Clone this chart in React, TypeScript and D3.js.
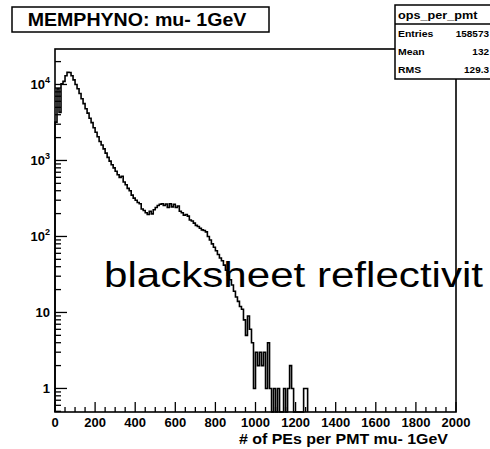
import React from "react";
import * as d3 from "d3";

// ---- data ----
const titleText = "MEMPHYNO: mu- 1GeV";
const xAxisTitle = "# of PEs per PMT mu- 1GeV";
const overlayText = "blacksheet reflectivit";
const statsName = "ops_per_pmt";
const statsLabels = ["Entries", "Mean", "RMS"];
const statsValues = ["158573", "132", "129.3"];

const xDomain = [0, 2000];
const yDomain = [0.49, 29300];
const binStart = 0;
const binWidth = 10;
// counts per 10-PE bin, starting at 0 PE
const counts = [
  3200, 8800, 4300, 10200, 11000, 13000, 14500, 14400, 13000, 11500,
  10000, 8800, 7600, 6500, 5600, 4800, 4200, 3600, 3150, 2700,
  2350, 2050, 1780, 1600, 1420, 1250, 1100, 980, 880, 800,
  720, 650, 600, 620, 520, 480, 430, 400, 350, 320,
  300, 280, 270, 230, 220, 205, 195, 215, 198, 225,
  240, 255, 265, 270, 255, 268, 240, 270, 245, 265,
  240, 252, 215, 205, 190, 195, 185, 165, 160, 150,
  140, 135, 128, 122, 120, 115, 100, 90, 80, 72,
  65, 58, 52, 48, 42, 36, 31, 27, 23, 19,
  16, 14, 12, 11, 8, 5, 9, 6, 4, 1,
  3, 2, 3, 2, 3, 1, 4, 1, 0, 1,
  0, 1, 0, 0, 1, 0, 1, 2, 1, 0,
  0, 0, 0, 0, 1, 1,
];
const xMajorTicks = [0, 200, 400, 600, 800, 1000, 1200, 1400, 1600, 1800, 2000];
const xMinorStep = 50;
const yMajorTicks = [1, 10, 100, 1000, 10000];
const yMajorBase = ["1", "10", "10", "10", "10"];
const yMajorExp = ["", "", "2", "3", "4"];

// ---- layout ----
const W = 490;
const H = 449;
const frame = { left: 55, top: 49, right: 456, bottom: 412 };

function T(props: any) {
  const { x, y, size, sx = 1, anchor = "start", weight = "bold", family = "'Liberation Sans', Arial, sans-serif", children } = props;
  return (
    <text
      transform={`translate(${x},${y}) scale(${sx},1)`}
      fontSize={size}
      fontFamily={family}
      fontWeight={weight}
      textAnchor={anchor}
      fill="#000"
    >
      {children}
    </text>
  );
}

export default function App() {
  const x = d3.scaleLinear().domain(xDomain).range([frame.left, frame.right]);
  const y = d3.scaleLog().domain(yDomain).range([frame.bottom, frame.top]).clamp(true);

  const pts: [number, number][] = [];
  pts.push([x(binStart), frame.bottom]);
  counts.forEach((c, i) => {
    const lo = binStart + i * binWidth;
    pts.push([x(lo), c > 0 ? y(c) : frame.bottom]);
  });
  const last = counts[counts.length - 1];
  const endX = x(binStart + counts.length * binWidth);
  pts.push([endX, last > 0 ? y(last) : frame.bottom]);
  pts.push([endX, frame.bottom]);
  const line = d3.line<[number, number]>().x((d) => d[0]).y((d) => d[1]).curve(d3.curveStepAfter);
  const histPath = line(pts) || "";

  const xMinor = d3.range(xDomain[0], xDomain[1] + 1, xMinorStep).filter((v) => !xMajorTicks.includes(v));

  const yMinor: number[] = [];
  for (let e = -1; e <= 4; e++) {
    for (let k = 2; k <= 9; k++) {
      const v = k * Math.pow(10, e);
      if (v >= yDomain[0] && v <= yDomain[1]) yMinor.push(v);
    }
  }

  return (
    <svg width={W} height={H} style={{ position: "absolute", left: 0, top: 0, background: "#fff" }}>
      <rect x={0} y={0} width={W} height={H} fill="#fff" />
      {/* histogram */}
      <path d={histPath} fill="none" stroke="#000" strokeWidth={1.6} />
      {/* frame */}
      <rect
        x={frame.left}
        y={frame.top}
        width={frame.right - frame.left}
        height={frame.bottom - frame.top}
        fill="none"
        stroke="#000"
        strokeWidth={1.6}
      />
      {/* x ticks */}
      {xMajorTicks.map((v) => (
        <line key={"xM" + v} x1={x(v)} x2={x(v)} y1={frame.bottom} y2={frame.bottom - 10} stroke="#000" strokeWidth={1.3} />
      ))}
      {xMinor.map((v) => (
        <line key={"xm" + v} x1={x(v)} x2={x(v)} y1={frame.bottom} y2={frame.bottom - 5} stroke="#000" strokeWidth={1.3} />
      ))}
      {xMajorTicks.map((v) => (
        <T key={"xl" + v} x={x(v)} y={427} size={13} sx={1.0} anchor="middle">
          {String(v)}
        </T>
      ))}
      <T x={448} y={444} size={14.5} sx={1.1} anchor="end">
        {xAxisTitle}
      </T>
      {/* y ticks */}
      {yMajorTicks.map((v) => (
        <line key={"yM" + v} x1={frame.left} x2={frame.left + 12} y1={y(v)} y2={y(v)} stroke="#000" strokeWidth={1.3} />
      ))}
      {yMinor.map((v) => (
        <line key={"ym" + v} x1={frame.left} x2={frame.left + 6} y1={y(v)} y2={y(v)} stroke="#000" strokeWidth={1.3} />
      ))}
      {yMajorTicks.map((v, i) => (
        <T key={"yl" + v} x={50} y={y(v) + 5} size={13} anchor="end">
          {yMajorBase[i]}
          {yMajorExp[i] ? (
            <tspan fontSize={9} dy={-6}>
              {yMajorExp[i]}
            </tspan>
          ) : null}
        </T>
      ))}
      {/* title box */}
      <rect x={12} y={7} width={257} height={25} fill="#fff" stroke="#000" strokeWidth={1.5} />
      <T x={137} y={25.5} size={17.5} sx={1.12} anchor="middle">
        {titleText}
      </T>
      {/* stats box */}
      <rect x={395} y={5} width={110} height={74} fill="#fff" stroke="#000" strokeWidth={1.5} />
      <line x1={395} x2={W} y1={24} y2={24} stroke="#000" strokeWidth={1.3} />
      <T x={398} y={19} size={11.5} sx={1.1} anchor="start">
        {statsName}
      </T>
      {statsLabels.map((lab, i) => (
        <T key={"sl" + lab} x={398} y={37 + i * 18} size={9.5} sx={1.1} anchor="start">
          {lab}
        </T>
      ))}
      {statsValues.map((val, i) => (
        <T key={"sv" + i} x={489} y={37 + i * 18} size={9.5} sx={1.05} anchor="end">
          {val}
        </T>
      ))}
      {/* overlay text */}
      <T x={104} y={287} size={36} sx={1.17} anchor="start" weight="normal">
        {overlayText}
      </T>
    </svg>
  );
}
